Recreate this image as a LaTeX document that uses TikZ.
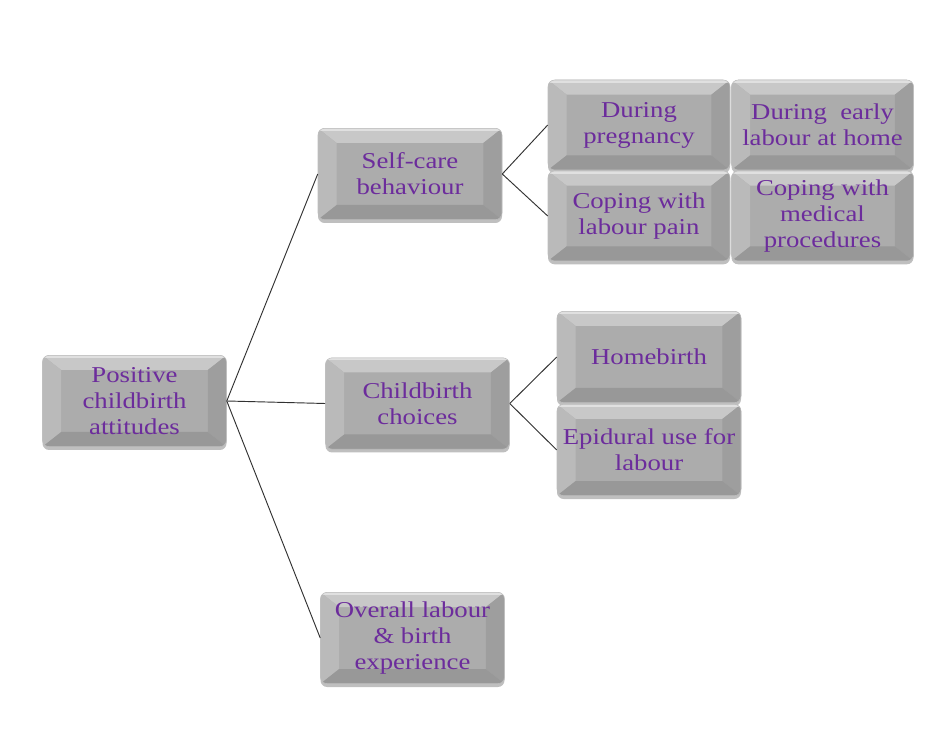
\documentclass[tikz,border=0pt]{standalone}
\usepackage{fontspec}
\setmainfont[FakeStretch=1.18]{Liberation Serif}
\usetikzlibrary{shadows}

\definecolor{facegray}{RGB}{172,172,172}
\definecolor{topgray}{RGB}{200,200,200}
\definecolor{leftgray}{RGB}{186,186,186}
\definecolor{rightgray}{RGB}{158,158,158}
\definecolor{bottomgray}{RGB}{152,152,152}
\definecolor{labelpurple}{RGB}{108,44,156}
\definecolor{linkgray}{RGB}{50,50,50}

\tikzset{
  x=0.75pt, y=-0.75pt,
  bevelbox/.style={
    rectangle, rounded corners=5pt, fill=facegray, draw=black!25, line width=0.4pt,
    minimum width=138pt, minimum height=68.5pt, inner sep=0pt,
    align=center, text=labelpurple,
    font=\fontsize{17pt}{19.5pt}\selectfont,
    drop shadow={shadow xshift=0pt, shadow yshift=-2.5pt, opacity=0.25, fill=black},
    path picture={
      % top bevel
      \fill[topgray, sharp corners]
        (path picture bounding box.north west) -- (path picture bounding box.north east)
        -- ([xshift=-14pt,yshift=-11pt]path picture bounding box.north east)
        -- ([xshift=14pt,yshift=-11pt]path picture bounding box.north west) -- cycle;
      % left bevel
      \fill[leftgray, sharp corners]
        (path picture bounding box.north west) -- (path picture bounding box.south west)
        -- ([xshift=14pt,yshift=11pt]path picture bounding box.south west)
        -- ([xshift=14pt,yshift=-11pt]path picture bounding box.north west) -- cycle;
      % right bevel
      \fill[rightgray, sharp corners]
        (path picture bounding box.north east) -- (path picture bounding box.south east)
        -- ([xshift=-14pt,yshift=11pt]path picture bounding box.south east)
        -- ([xshift=-14pt,yshift=-11pt]path picture bounding box.north east) -- cycle;
      % bottom bevel
      \fill[bottomgray, sharp corners]
        (path picture bounding box.south west) -- (path picture bounding box.south east)
        -- ([xshift=-14pt,yshift=11pt]path picture bounding box.south east)
        -- ([xshift=14pt,yshift=11pt]path picture bounding box.south west) -- cycle;
      % top highlight
      \fill[white, opacity=0.45, sharp corners]
        (path picture bounding box.north west) rectangle ([yshift=-2pt]path picture bounding box.north east);
    }
  },
  smallbox/.style={bevelbox, minimum width=136.5pt, minimum height=67.5pt},
  link/.style={draw=linkgray, line width=0.7pt}
}

\begin{document}
\begin{tikzpicture}
  \useasboundingbox[fill=white] (0,0) rectangle (949,737);

  % first level
  \node[bevelbox] (root) at (134.5,401) {Positive\\childbirth\\attitudes};
  \node[bevelbox] (self) at (410,174) {Self-care\\behaviour};
  \node[bevelbox] (choice) at (417.5,403.5) {Childbirth\\choices};
  \node[bevelbox] (overall) at (412.5,638) {Overall labour\\\& birth\\experience};

  % self-care branches
  \node[smallbox] (preg) at (639,125) {During\\pregnancy};
  \node[smallbox] (early) at (822.5,125) {During\ \ early\\labour at home};
  \node[smallbox] (pain) at (639,216) {Coping with\\labour pain};
  \node[smallbox] (medical) at (822.5,216) {Coping with\\medical\\procedures};

  % choice branches
  \node[bevelbox] (home) at (649,357) {Homebirth};
  \node[bevelbox] (epidural) at (649,450) {Epidural use for\\labour};

  % connectors
  \draw[link] (root.east) -- (self.west);
  \draw[link] (root.east) -- (choice.west);
  \draw[link] (root.east) -- (overall.west);
  \draw[link] (self.east) -- (preg.west);
  \draw[link] (self.east) -- (pain.west);
  \draw[link] (choice.east) -- (home.west);
  \draw[link] (choice.east) -- (epidural.west);
\end{tikzpicture}
\end{document}
